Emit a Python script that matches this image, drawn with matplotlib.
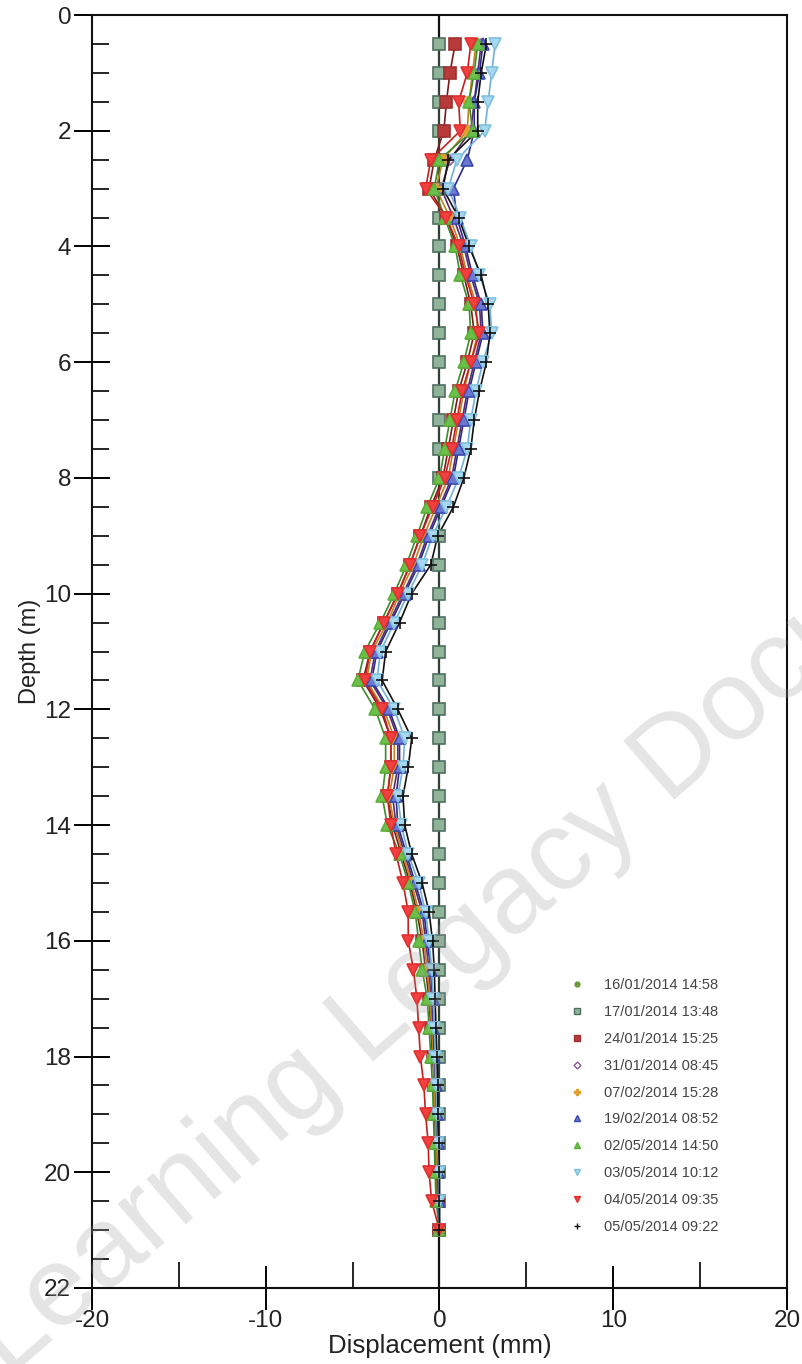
import matplotlib
matplotlib.use("Agg")
import matplotlib.pyplot as plt
from matplotlib.lines import Line2D

plt.rcParams['axes.unicode_minus'] = False

depths = [0.5, 1.0, 1.5, 2.0, 2.5, 3.0, 3.5, 4.0, 4.5, 5.0, 5.5, 6.0, 6.5, 7.0,
          7.5, 8.0, 8.5, 9.0, 9.5, 10.0, 10.5, 11.0, 11.5, 12.0, 12.5, 13.0, 13.5,
          14.0, 14.5, 15.0, 15.5, 16.0, 16.5, 17.0, 17.5, 18.0, 18.5, 19.0, 19.5,
          20.0, 20.5, 21.0]

labels = ["16/01/2014 14:58", "17/01/2014 13:48", "24/01/2014 15:25",
          "31/01/2014 08:45", "07/02/2014 15:28", "19/02/2014 08:52",
          "02/05/2014 14:50", "03/05/2014 10:12", "04/05/2014 09:35",
          "05/05/2014 09:22"]

s_1601 = [0.0] * 42
s_1701 = [0.0] * 42
s_2401 = [0.9, 0.6, 0.4, 0.25, -0.3, -0.6, 0.4, 1.0, 1.4, 1.8, 2.0, 1.6, 1.1, 0.8,
          0.5, 0.2, -0.5, -1.1, -1.7, -2.4, -3.2, -4.0, -4.4, -3.4, -2.8, -2.8, -3.0,
          -2.7, -2.2, -1.7, -1.3, -1.0, -0.8, -0.6, -0.5, -0.4, -0.3, -0.3, -0.2,
          -0.2, -0.1, 0.0]
s_3101 = [2.4, 2.2, 2.0, 1.8, 0.6, 0.1, 0.8, 1.4, 1.8, 2.3, 2.4, 2.0, 1.6, 1.3,
          1.0, 0.7, 0.0, -0.7, -1.3, -2.1, -2.9, -3.7, -4.0, -3.0, -2.4, -2.4, -2.7,
          -2.5, -2.0, -1.5, -1.0, -0.8, -0.6, -0.5, -0.4, -0.3, -0.25, -0.2, -0.15,
          -0.1, -0.05, 0.0]
s_0702 = [2.1, 1.9, 1.7, 1.6, 0.2, -0.2, 0.6, 1.2, 1.6, 2.1, 2.2, 1.8, 1.4, 1.1,
          0.8, 0.5, -0.2, -0.9, -1.5, -2.3, -3.0, -3.9, -4.2, -3.2, -2.6, -2.6, -2.9,
          -2.6, -2.1, -1.6, -1.2, -0.9, -0.7, -0.55, -0.45, -0.35, -0.3, -0.25, -0.2,
          -0.15, -0.1, 0.0]
s_1902 = [2.5, 2.3, 2.0, 2.0, 1.6, 0.8, 1.0, 1.5, 1.9, 2.4, 2.5, 2.1, 1.7, 1.4,
          1.1, 0.8, 0.1, -0.6, -1.2, -2.0, -2.8, -3.6, -3.9, -2.9, -2.3, -2.3, -2.5,
          -2.4, -1.9, -1.4, -0.9, -0.7, -0.5, -0.4, -0.35, -0.3, -0.2, -0.15, -0.1,
          -0.1, -0.05, 0.0]
s_0205 = [2.2, 2.0, 1.7, 1.9, 0.0, -0.3, 0.3, 0.9, 1.2, 1.7, 1.8, 1.4, 0.9, 0.6,
          0.3, 0.0, -0.7, -1.3, -1.9, -2.6, -3.4, -4.3, -4.7, -3.7, -3.1, -3.1, -3.3,
          -3.0, -2.3, -1.8, -1.4, -1.2, -1.0, -0.7, -0.6, -0.5, -0.4, -0.35, -0.3,
          -0.25, -0.2, 0.0]
s_0305 = [3.2, 3.0, 2.8, 2.6, 1.0, 0.5, 1.2, 1.8, 2.3, 2.9, 3.0, 2.5, 2.1, 1.8,
          1.6, 1.1, 0.4, -0.4, -1.0, -1.8, -2.6, -3.4, -3.6, -2.6, -2.0, -2.1, -2.4,
          -2.2, -1.8, -1.2, -0.8, -0.6, -0.45, -0.35, -0.3, -0.25, -0.2, -0.15, -0.1,
          -0.05, 0.0, 0.0]
s_0405 = [1.8, 1.6, 1.1, 1.2, -0.5, -0.8, 0.4, 1.1, 1.5, 2.0, 2.3, 1.8, 1.3, 1.0,
          0.7, 0.3, -0.4, -1.1, -1.7, -2.4, -3.2, -4.0, -4.3, -3.3, -2.8, -2.8, -3.0,
          -2.8, -2.5, -2.1, -1.8, -1.8, -1.5, -1.3, -1.2, -1.1, -0.9, -0.8, -0.65,
          -0.6, -0.45, 0.0]
s_0505 = [2.7, 2.4, 2.2, 2.2, 0.5, 0.2, 1.1, 1.7, 2.4, 2.8, 2.9, 2.7, 2.3, 2.0,
          1.8, 1.4, 0.8, -0.1, -0.5, -1.6, -2.3, -3.1, -3.3, -2.4, -1.6, -1.8, -2.1,
          -2.0, -1.6, -1.0, -0.6, -0.4, -0.3, -0.25, -0.2, -0.15, -0.1, -0.1, -0.05,
          0.0, 0.0, 0.0]

x_ticks = [-20, -10, 0, 10, 20]
y_ticks = [0, 2, 4, 6, 8, 10, 12, 14, 16, 18, 20, 22]

series = [s_1601, s_1701, s_2401, s_3101, s_0702, s_1902, s_0205, s_0305, s_0405, s_0505]
styles = [
    dict(marker='o', mfc='#6a9a3a', mec='#6a9a3a', ms=4, lc='#3a5a3a'),
    dict(marker='s', mfc='#8fb49a', mec='#4f6f60', ms=8, lc='#2f3f35'),
    dict(marker='s', mfc='#b83a3a', mec='#a03030', ms=8, lc='#7a1a1a'),
    dict(marker='D', mfc='none', mec='#8a5a9a', ms=5, lc='#5a2a6a'),
    dict(marker='P', mfc='#e0a030', mec='#e0a030', ms=7, lc='#c08020'),
    dict(marker='^', mfc='#6a78d0', mec='#3a48b0', ms=8, lc='#2a2a8a'),
    dict(marker='^', mfc='#6cc04a', mec='#5ab038', ms=9, lc='#3a8a2a'),
    dict(marker='v', mfc='#a8d8f0', mec='#80c0e0', ms=9, lc='#70b0d8'),
    dict(marker='v', mfc='#f04040', mec='#e03030', ms=9, lc='#c02020'),
    dict(marker='+', mfc='#111111', mec='#111111', ms=9, lc='#111111'),
]

W, H = 803, 1364
fig = plt.figure(figsize=(W / 100, H / 100), dpi=100)
left, right, top, bottom = 92, 787, 15, 1288
ax = fig.add_axes([left / W, 1 - bottom / H, (right - left) / W, (bottom - top) / H])

fam = ['Liberation Sans']

ax.axvline(0, color='#111111', lw=1.6, zorder=2)
for i in range(10):
    st = styles[i]
    ax.plot(series[i], depths, color=st['lc'], lw=1.2, zorder=3 + i * 0.1)
for i in range(10):
    st = styles[i]
    ax.plot(series[i], depths, linestyle='none', marker=st['marker'], ms=st['ms'],
            mfc=st['mfc'], mec=st['mec'], mew=1.2, zorder=4 + i * 0.1)

ax.set_xlim(-20, 20)
ax.set_ylim(22, 0)
ax.set_xticks(x_ticks)
ax.set_xticks([-15, -5, 5, 15], minor=True)
ax.set_yticks(y_ticks)
ax.set_yticks([v + 0.5 * k for v in range(0, 22) for k in (0, 1) if (v + 0.5 * k) % 2 != 0], minor=True)
ax.tick_params(axis='x', which='major', direction='inout', length=32, width=1.4, pad=0,
               labelsize=17.5)
ax.tick_params(axis='x', which='minor', direction='in', length=19, width=1.2)
ax.tick_params(axis='y', which='major', direction='inout', length=26, width=1.4, pad=2,
               labelsize=17.5)
ax.tick_params(axis='y', which='minor', direction='in', length=12, width=1.2)
for lab in ax.get_xticklabels() + ax.get_yticklabels():
    lab.set_family(fam)
    lab.set_color('#222222')
for sp in ax.spines.values():
    sp.set_linewidth(1.5)
    sp.set_color('#111111')

ax.set_xlabel('Displacement (mm)', family=fam, fontsize=18.5, color='#222222', labelpad=1)
ax.set_ylabel('Depth (m)', family=fam, fontsize=17, color='#222222', labelpad=2)

handles = []
for i in range(10):
    st = styles[i]
    handles.append(Line2D([], [], linestyle='none', marker=st['marker'],
                          ms=max(3.5, st['ms'] * 0.55), mfc=st['mfc'], mec=st['mec'], mew=1.0))
leg = ax.legend(handles, labels, loc='upper left',
                bbox_to_anchor=(560 / W, 1 - 971 / H), bbox_transform=fig.transFigure,
                frameon=False, fontsize=10.5, handlelength=1.3, handletextpad=1.2,
                labelspacing=0.88, borderpad=0)
for t in leg.get_texts():
    t.set_color('#444444')
    t.set_family(fam)

fig.text(515 / W, 1 - 900 / H, 'Learning Legacy Document', fontsize=82,
         color='#9a9a9a', alpha=0.26, rotation=41, ha='center', va='center',
         family=fam, zorder=20)

fig.savefig('out.png', dpi=100)
